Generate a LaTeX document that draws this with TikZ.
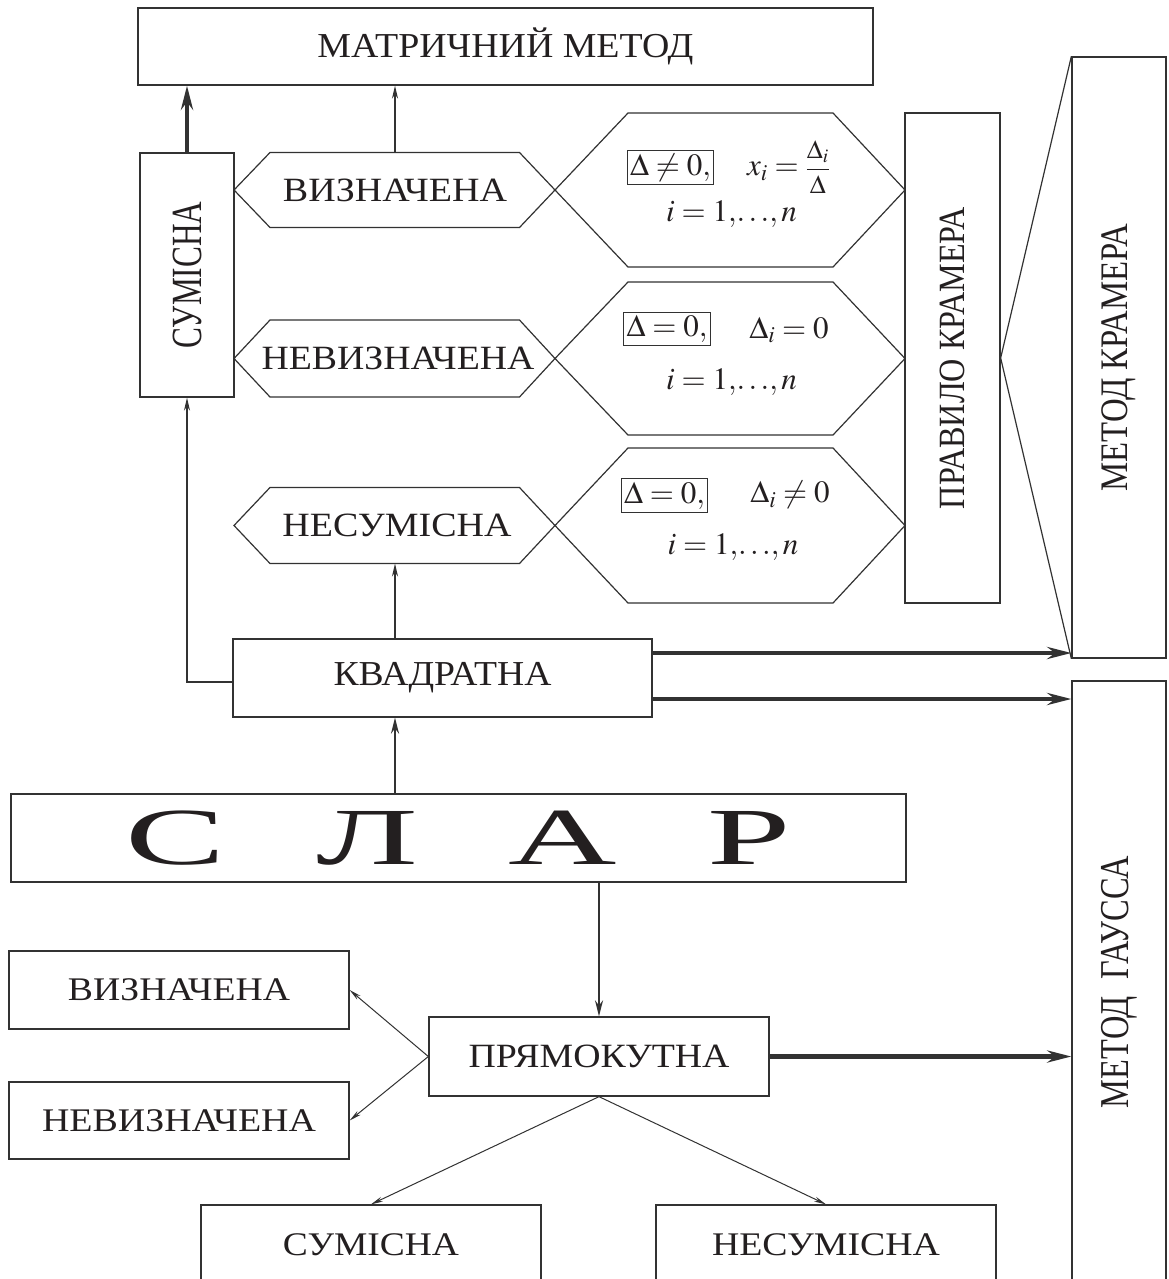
\documentclass[tikz,border=0pt]{standalone}
\usepackage{mathptmx}
\usepackage{fontspec}
\setmainfont{Liberation Serif}
\usepackage{graphicx}
\usetikzlibrary{arrows.meta}

\definecolor{ink}{RGB}{50,50,50}
\definecolor{txt}{RGB}{35,31,32}

% text of a given size squeezed or stretched to a given width
\newcommand\wtxt[3]{{\fontsize{#1}{#1}\selectfont\resizebox{#2pt}{\height}{#3}}}
% vertical label, read from bottom to top
\newcommand\vtxt[3]{\rotatebox{90}{\wtxt{#1}{#2}{#3}}}
% index range 1,...,n set tightly
\newcommand\irange{i=1{,}\mathord{\ldots}{,}\,n}
% Cramer quotient set a little larger than a text fraction
\newcommand\cramerfrac{\mbox{\fontsize{26}{26}\selectfont$\displaystyle\frac{\Delta_i}{\Delta}$}}

% elongated hexagon: name, x of left tip, x of left corners, x of right corners, x of right tip, centre y, half height
\newcommand\hexa[7]{%
  \draw[hexline] (#2,#6) coordinate (#1-w)
    -- (#3,#6-#7) coordinate (#1-nw)
    -- (#4,#6-#7) coordinate (#1-ne)
    -- (#5,#6) coordinate (#1-e)
    -- (#4,#6+#7) coordinate (#1-se)
    -- (#3,#6+#7) coordinate (#1-sw) -- cycle;}

\tikzset{
  box/.style={draw=ink, line width=1.3pt, inner sep=0pt, text=txt},
  hexline/.style={draw=ink, line width=1.2pt},
  edge/.style={draw=ink, line width=1.2pt},
  arr/.style={draw=ink, line width=1.4pt, -{Stealth[length=13pt,width=6pt]}},
  marr/.style={draw=ink, line width=2.2pt, -{Stealth[length=16pt,width=8pt]}},
  tarr/.style={draw=ink, line width=4.3pt, -{Stealth[length=24pt,width=12pt]}},
  farr/.style={draw=ink, line width=1pt, -{Stealth[length=12pt,width=5pt]}},
  mathtxt/.style={text=txt, inner sep=0pt, font=\fontsize{31}{36}\selectfont},
  mathbox/.style={draw=ink, line width=1pt, text=txt, inner sep=3pt, font=\fontsize{31}{36}\selectfont},
}

\begin{document}
\begin{tikzpicture}[x=1pt,y=-1pt]
\useasboundingbox (0,0) rectangle (1169,1279);
\clip (0,0) rectangle (1169,1279);
\fill[white] (0,0) rectangle (1169,1279);

% ---- main boxes
\node[box, minimum width=735pt, minimum height=77pt] (mat) at (505.5,46.5)
  {\wtxt{35}{376}{МАТРИЧНИЙ МЕТОД}};
\node[box, minimum width=94pt, minimum height=244pt] (sum) at (187,275)
  {\vtxt{43}{147}{СУМІСНА}};
\node[box, minimum width=95pt, minimum height=490pt] (prav) at (952.5,358)
  {\vtxt{37}{302}{ПРАВИЛО КРАМЕРА}};
\node[box, minimum width=94pt, minimum height=601pt] (mkr) at (1119,357.5)
  {\vtxt{39}{268}{МЕТОД КРАМЕРА}};
\node[box, minimum width=94pt, minimum height=602pt] (gauss) at (1119,982)
  {\vtxt{41}{252}{МЕТОД\enspace ГАУССА}};
\node[box, minimum width=419pt, minimum height=78pt] (kv) at (442.5,678)
  {\wtxt{35}{218}{КВАДРАТНА}};
\node[box, minimum width=895pt, minimum height=88pt] (slar) at (458.5,838)
  {\wtxt{81}{666}{С\hspace{49pt}Л\hspace{49pt}А\hspace{49pt}Р}};
\node[box, minimum width=340pt, minimum height=79pt] (pr) at (599,1056.5)
  {\wtxt{34}{261}{ПРЯМОКУТНА}};
\node[box, minimum width=340pt, minimum height=78pt] (viz) at (179,990)
  {\wtxt{33}{222}{ВИЗНАЧЕНА}};
\node[box, minimum width=340pt, minimum height=77pt] (nev) at (179,1120.5)
  {\wtxt{33}{274}{НЕВИЗНАЧЕНА}};
\node[box, minimum width=340pt, minimum height=80pt] (cs) at (371,1245)
  {\wtxt{33}{176}{СУМІСНА}};
\node[box, minimum width=340pt, minimum height=80pt] (ncs) at (826,1245)
  {\wtxt{33}{228}{НЕСУМІСНА}};

% ---- hexagons: kinds of square systems and Cramer conditions
\hexa{h1l}{234}{270}{519.5}{555}{190}{37.5}
\hexa{h1r}{555}{628}{833}{905}{190}{77}
\hexa{h2l}{234}{270}{519.5}{555}{358.5}{38.5}
\hexa{h2r}{555}{628}{833}{905}{358.5}{76.5}
\hexa{h3l}{234}{270}{519.5}{555}{525.5}{38}
\hexa{h3r}{555}{628}{833}{905}{525.5}{77.5}

\node[text=txt, inner sep=0pt] (hv1) at (395,190.5) {\wtxt{34}{224}{ВИЗНАЧЕНА}};
\node[text=txt, inner sep=0pt] (hv2) at (398,358.5) {\wtxt{34}{273}{НЕВИЗНАЧЕНА}};
\node[text=txt, inner sep=0pt] (hv3) at (397,525) {\wtxt{34}{229}{НЕСУМІСНА}};

\node[mathbox] (c1) at (670.5,167.5) {$\Delta\neq 0,$};
\node[mathtxt] (f1) at (788.5,167) {$x_i=\cramerfrac$};
\node[mathtxt] (i1) at (731.5,214) {$\irange$};

\node[mathbox] (c2) at (667,329) {$\Delta=0,$};
\node[mathtxt] (f2) at (789,330) {$\Delta_i=0$};
\node[mathtxt] (i2) at (731.5,382) {$\irange$};

\node[mathbox] (c3) at (664.5,495.5) {$\Delta=0,$};
\node[mathtxt] (f3) at (790,495) {$\Delta_i\neq 0$};
\node[mathtxt] (i3) at (733,547) {$\irange$};

% ---- connectors
\coordinate (colA) at (395,0);
\draw[tarr] (sum.north) -- (sum.north |- mat.south);
\draw[arr] (colA |- h1l-nw) -- (colA |- mat.south);
\draw[arr] (colA |- kv.north) -- (colA |- h3l-sw);
\draw[marr] (colA |- slar.north) -- (colA |- kv.south);
\draw[arr] ([yshift=-4pt]kv.west) -| (sum.south);

\path ([yshift=25pt]kv.east) coordinate (kvA)
      ([yshift=-21pt]kv.east) coordinate (kvB);
\draw[tarr] (kvA) -- (kvA -| mkr.west);
\draw[tarr] (kvB) -- (kvB -| gauss.west);

\draw[edge] (mkr.north west) -- (prav.east) -- (mkr.south west);

\draw[marr] (pr.north |- slar.south) -- (pr.north);
\draw[tarr] (pr.east) -- (pr.east -| gauss.west);
\draw[farr] (pr.west) -- (viz.east);
\draw[farr] (pr.west) -- (nev.east);
\draw[farr] (pr.south) -- (cs.north);
\draw[farr] (pr.south) -- (ncs.north);
\end{tikzpicture}
\end{document}
